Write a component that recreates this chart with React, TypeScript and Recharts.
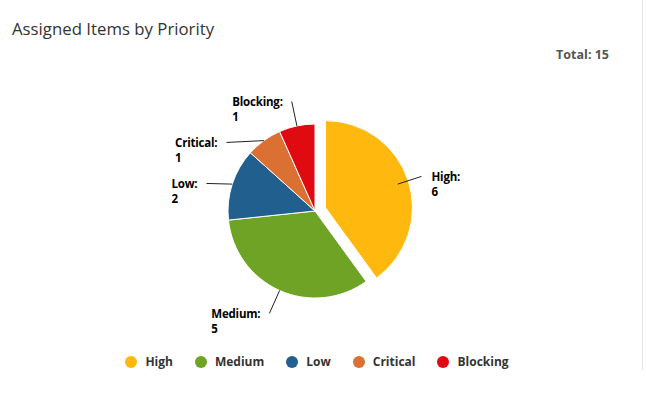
import React from "react";
import { PieChart, Pie, Cell, Legend } from "recharts";

const categories = ["High", "Medium", "Low", "Critical", "Blocking"];
const counts = [6, 5, 2, 1, 1];
const colors = ["#FFB80D", "#6FA326", "#215F8E", "#DA7031", "#DF0B10"];

const data = categories.map((name, i) => ({ name, value: counts[i] }));
const total = counts.reduce((a, b) => a + b, 0);

const CX = 315;
const CY = 211;
const R = 87;
const LABEL_R = 112; // where connectors end
const SPACING = 41; // min vertical gap between labels on one side
const SLICE_OFFSET = 11; // "High" is pulled out
const LABEL_FONT = "bold 11.5px 'Open Sans'";
const LABEL_SPACING = -0.2;
const LINE_GAP = 15;

const measure = (() => {
  let ctx: CanvasRenderingContext2D | null = null;
  return (text: string) => {
    if (!ctx) ctx = document.createElement("canvas").getContext("2d");
    if (!ctx) return text.length * 6;
    ctx.font = LABEL_FONT;
    return ctx.measureText(text).width + LABEL_SPACING * text.length;
  };
})();

// mid angle of each slice, degrees counter-clockwise from 3 o'clock
const midAngles = (() => {
  let cum = 0;
  return counts.map((v) => {
    const a = 90 - (360 * (cum + v / 2)) / total;
    cum += v;
    return a;
  });
})();

const RAD = Math.PI / 180;

// highcharts-like label placement, pushed down when they collide
const labelLayout = (() => {
  const items = midAngles.map((a, i) => ({
    i,
    a,
    right: Math.cos(a * RAD) >= 0,
    y: CY - LABEL_R * Math.sin(a * RAD),
    x: 0,
  }));
  [true, false].forEach((side) => {
    const list = items.filter((it) => it.right === side).sort((p, q) => p.y - q.y);
    let prev = -Infinity;
    list.forEach((it) => {
      it.y = Math.max(it.y, prev + SPACING);
      prev = it.y;
      const dy = it.y - CY;
      const dx = Math.sqrt(Math.max(0, LABEL_R * LABEL_R - dy * dy));
      it.x = side ? CX + dx : CX - dx;
    });
  });
  return items.sort((p, q) => p.i - q.i);
})();

const highMid = midAngles[0];
const sliceDx = SLICE_OFFSET * Math.cos(highMid * RAD);
const sliceDy = -SLICE_OFFSET * Math.sin(highMid * RAD);

const renderLabel = (props: any) => {
  const i = props.index;
  const lay = labelLayout[i];
  const sx = CX + R * Math.cos(lay.a * RAD);
  const sy = CY - R * Math.sin(lay.a * RAD);
  const line1 = categories[i] + ":";
  const w = Math.max(measure(line1), measure(String(counts[i])));
  const tx = lay.right ? lay.x + 10 : lay.x - 9 - w;
  const textStyle = { font: LABEL_FONT, letterSpacing: LABEL_SPACING };
  return (
    <g key={`lbl-${i}`}>
      <path d={`M${sx},${sy}L${lay.x},${lay.y}`} stroke="#222" strokeWidth={1} fill="none" />
      <text x={tx} y={lay.y + 5} style={textStyle} fill="#000">
        <tspan x={tx}>{line1}</tspan>
        <tspan x={tx} dy={LINE_GAP}>
          {counts[i]}
        </tspan>
      </text>
    </g>
  );
};

const LegendContent = () => (
  <div
    style={{
      display: "flex",
      justifyContent: "center",
      alignItems: "center",
      fontFamily: "'Open Sans'",
      fontWeight: 700,
      fontSize: 12,
      color: "#333",
    }}
  >
    {categories.map((c, i) => (
      <div key={c} style={{ display: "flex", alignItems: "center", marginRight: i < categories.length - 1 ? 22 : 0 }}>
        <span
          style={{
            width: 12,
            height: 12,
            borderRadius: 6,
            background: colors[i],
            marginRight: 8,
            display: "inline-block",
          }}
        />
        <span>{c}</span>
      </div>
    ))}
  </div>
);

export default function App() {
  return (
    <div
      style={{
        position: "absolute",
        left: 0,
        top: 0,
        width: 646,
        height: 393,
        background: "#fff",
        overflow: "hidden",
      }}
    >
      <div
        style={{
          position: "absolute",
          left: 12,
          top: 17,
          fontFamily: "'Open Sans'",
          fontSize: 16.8,
          color: "#333",
          whiteSpace: "nowrap",
        }}
      >
        Assigned Items by Priority
      </div>
      <div
        style={{
          position: "absolute",
          right: 37,
          top: 46,
          fontFamily: "'Open Sans'",
          fontWeight: 700,
          fontSize: 12.5,
          color: "#555",
        }}
      >
        Total: {total}
      </div>
      <div
        style={{
          position: "absolute",
          left: 642,
          top: 0,
          width: 1,
          height: 370,
          background: "#e3e3e3",
        }}
      />
      <div style={{ position: "absolute", left: 0, top: 0 }}>
        <PieChart width={634} height={393} margin={{ top: 0, right: 0, bottom: 0, left: 0 }}>
          <Pie
            data={data}
            dataKey="value"
            nameKey="name"
            cx={CX}
            cy={CY}
            outerRadius={R}
            startAngle={90}
            endAngle={-270}
            stroke="#fff"
            strokeWidth={1}
            label={renderLabel}
            labelLine={false}
            isAnimationActive={false}
          >
            {data.map((d, i) => (
              <Cell key={`a-${i}`} fill={i === 0 ? "none" : colors[i]} stroke={i === 0 ? "none" : "#fff"} />
            ))}
          </Pie>
          <Pie
            data={data}
            dataKey="value"
            nameKey="name"
            cx={CX + sliceDx}
            cy={CY + sliceDy}
            outerRadius={R}
            startAngle={90}
            endAngle={-270}
            label={false}
            labelLine={false}
            isAnimationActive={false}
          >
            {data.map((d, i) => (
              <Cell key={`b-${i}`} fill={i === 0 ? colors[0] : "none"} stroke={i === 0 ? "#fff" : "none"} />
            ))}
          </Pie>
          <Legend
            content={LegendContent}
            wrapperStyle={{ position: "absolute", left: 0, top: 353, width: 634 }}
          />
        </PieChart>
      </div>
    </div>
  );
}
